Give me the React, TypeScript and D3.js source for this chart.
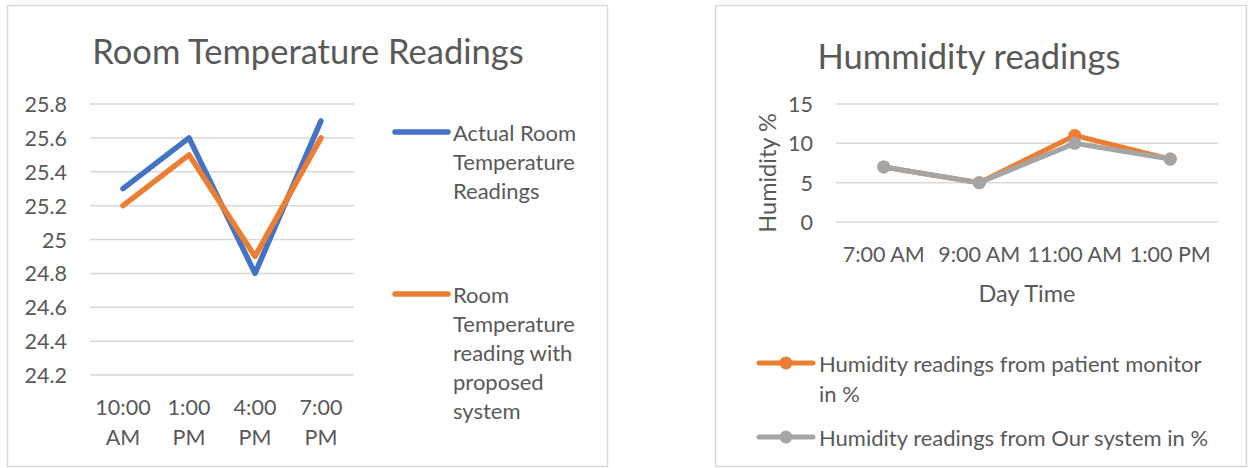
import React from "react";
import * as d3 from "d3";

const tempCategories = ["10:00 AM", "1:00 PM", "4:00 PM", "7:00 PM"];
const tempActual = [25.3, 25.6, 24.8, 25.7];
const tempProposed = [25.2, 25.5, 24.9, 25.6];
const tempTicks = [24.2, 24.4, 24.6, 24.8, 25, 25.2, 25.4, 25.6, 25.8];
const tempSeriesNames = [
  ["Actual Room", "Temperature", "Readings"],
  ["Room", "Temperature", "reading with", "proposed", "system"],
];

const humCategories = ["7:00 AM", "9:00 AM", "11:00 AM", "1:00 PM"];
const humMonitor = [7, 5, 11, 8];
const humSystem = [7, 5, 10, 8];
const humTicks = [0, 5, 10, 15];
const humSeriesNames = [
  ["Humidity readings from patient monitor", "in %"],
  ["Humidity readings from Our system in %"],
];

const FONT = "Lato, 'Open Sans', sans-serif";
const TEXT = "#595959";
const GRID = "#D9D9D9";
const BLUE = "#4472C4";
const ORANGE = "#ED7D31";
const GRAY = "#A5A5A5";
const TITLE_SIZE = 34.5;
const TICK_SIZE = 21.5;
const LEGEND_SIZE = 22;
const AXIS_TITLE_SIZE = 23.5;

function TempChart() {
  const x = d3.scaleBand<string>().domain(tempCategories).range([90, 354]);
  const y = d3.scaleLinear().domain([24.2, 25.8]).range([375, 104]);
  const cx = (c: string) => (x(c) as number) + x.bandwidth() / 2;
  const line = d3
    .line<number>()
    .x((_, i) => cx(tempCategories[i]))
    .y((d) => y(d));
  const series = [
    { values: tempActual, color: BLUE, names: tempSeriesNames[0], ly: 132 },
    { values: tempProposed, color: ORANGE, names: tempSeriesNames[1], ly: 294 },
  ];
  return (
    <g>
      <rect x={7.5} y={5.5} width={600} height={461} fill="#fff" stroke={GRID} strokeWidth={1.5} />
      <text x={308} y={50} textAnchor="middle" dominantBaseline="central" fontSize={TITLE_SIZE} fill={TEXT} fontFamily={FONT}>
        Room Temperature Readings
      </text>
      {tempTicks.map((t) => (
        <g key={t}>
          <line x1={90} x2={354} y1={y(t)} y2={y(t)} stroke={GRID} strokeWidth={1.5} />
          <text x={67} y={y(t)} textAnchor="end" dominantBaseline="central" fontSize={TICK_SIZE} fill={TEXT} fontFamily={FONT}>
            {String(t)}
          </text>
        </g>
      ))}
      {tempCategories.map((c) => {
        const parts = c.split(" ");
        return (
          <text key={c} x={cx(c)} textAnchor="middle" fontSize={TICK_SIZE} fill={TEXT} fontFamily={FONT}>
            <tspan x={cx(c)} y={407} dominantBaseline="central">{parts[0]}</tspan>
            <tspan x={cx(c)} y={437} dominantBaseline="central">{parts[1]}</tspan>
          </text>
        );
      })}
      {series.map((s, i) => (
        <path key={i} d={line(s.values) as string} fill="none" stroke={s.color} strokeWidth={5.5} strokeLinejoin="round" strokeLinecap="round" />
      ))}
      {series.map((s, i) => (
        <g key={"lg" + i}>
          <line x1={395} x2={448} y1={s.ly} y2={s.ly} stroke={s.color} strokeWidth={5.5} strokeLinecap="round" />
          {s.names.map((n, j) => (
            <text key={j} x={453} y={s.ly + j * 29} dominantBaseline="central" fontSize={LEGEND_SIZE} fill={TEXT} fontFamily={FONT}>
              {n}
            </text>
          ))}
        </g>
      ))}
    </g>
  );
}

function HumChart() {
  const x = d3.scaleBand<string>().domain(humCategories).range([836, 1218]);
  const y = d3.scaleLinear().domain([0, 15]).range([222, 104]);
  const cx = (c: string) => (x(c) as number) + x.bandwidth() / 2;
  const line = d3
    .line<number>()
    .x((_, i) => cx(humCategories[i]))
    .y((d) => y(d));
  const series = [
    { values: humMonitor, color: ORANGE, names: humSeriesNames[0], ly: 363 },
    { values: humSystem, color: GRAY, names: humSeriesNames[1], ly: 437 },
  ];
  return (
    <g>
      <rect x={715.5} y={5.5} width={531} height={461} fill="#fff" stroke={GRID} strokeWidth={1.5} />
      <text x={969} y={55} textAnchor="middle" dominantBaseline="central" fontSize={TITLE_SIZE} fill={TEXT} fontFamily={FONT}>
        Hummidity readings
      </text>
      {humTicks.map((t) => (
        <g key={t}>
          <line x1={836} x2={1218} y1={y(t)} y2={y(t)} stroke={GRID} strokeWidth={1.5} />
          <text x={813} y={y(t)} textAnchor="end" dominantBaseline="central" fontSize={TICK_SIZE} fill={TEXT} fontFamily={FONT}>
            {String(t)}
          </text>
        </g>
      ))}
      <text
        transform={`translate(767,${(104 + 222) / 2 + 10}) rotate(-90)`}
        textAnchor="middle"
        dominantBaseline="central"
        fontSize={AXIS_TITLE_SIZE}
        fill={TEXT}
        fontFamily={FONT}
      >
        Humidity %
      </text>
      {humCategories.map((c) => (
        <text key={c} x={cx(c)} y={254} textAnchor="middle" dominantBaseline="central" fontSize={TICK_SIZE} fill={TEXT} fontFamily={FONT}>
          {c}
        </text>
      ))}
      <text x={1027} y={293} textAnchor="middle" dominantBaseline="central" fontSize={AXIS_TITLE_SIZE} fill={TEXT} fontFamily={FONT}>
        Day Time
      </text>
      {series.map((s, i) => (
        <g key={i}>
          <path d={line(s.values) as string} fill="none" stroke={s.color} strokeWidth={5} strokeLinejoin="round" strokeLinecap="round" />
          {s.values.map((v, j) => (
            <circle key={j} cx={cx(humCategories[j])} cy={y(v)} r={6.5} fill={s.color} />
          ))}
        </g>
      ))}
      {series.map((s, i) => (
        <g key={"lg" + i}>
          <line x1={759} x2={813} y1={s.ly} y2={s.ly} stroke={s.color} strokeWidth={5} strokeLinecap="round" />
          <circle cx={786} cy={s.ly} r={6.5} fill={s.color} />
          {s.names.map((n, j) => (
            <text key={j} x={819} y={s.ly + j * 30} dominantBaseline="central" fontSize={LEGEND_SIZE} fill={TEXT} fontFamily={FONT}>
              {n}
            </text>
          ))}
        </g>
      ))}
    </g>
  );
}

export default function App() {
  return (
    <svg
      width={1249}
      height={468}
      style={{ position: "absolute", left: 0, top: 0, background: "#fff" }}
    >
      <rect x={0} y={0} width={1249} height={468} fill="#fff" />
      <TempChart />
      <HumChart />
    </svg>
  );
}
